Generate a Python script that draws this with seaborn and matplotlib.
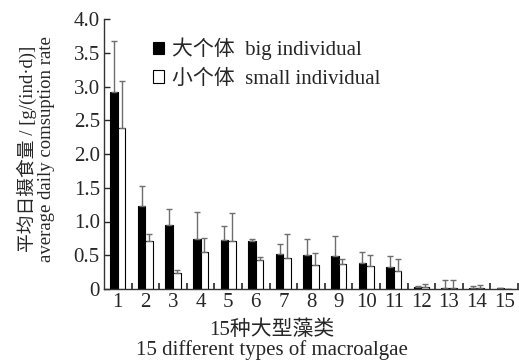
import seaborn as sns
import pandas as pd, numpy as np
import matplotlib.pyplot as plt
from matplotlib.patches import Patch
from matplotlib.ticker import FixedLocator, FuncFormatter

# 15种大型藻类
algae = [str(i) for i in range(1, 16)]
big_mean = [2.92, 1.23, 0.95, 0.74, 0.73, 0.71, 0.52, 0.51, 0.49, 0.39, 0.32, 0.03, 0.01, 0.01, 0.01]
big_err = [0.75, 0.30, 0.24, 0.40, 0.21, 0.03, 0.15, 0.23, 0.30, 0.16, 0.17, 0.02, 0.12, 0.03, 0.01]
small_mean = [2.39, 0.71, 0.23, 0.55, 0.71, 0.43, 0.46, 0.36, 0.37, 0.34, 0.27, 0.03, 0.02, 0.02, 0.005]
small_err = [0.69, 0.11, 0.05, 0.20, 0.41, 0.04, 0.36, 0.17, 0.08, 0.17, 0.18, 0.05, 0.12, 0.04, 0.0]
groups = ['大个体  big individual', '小个体  small individual']

df = pd.DataFrame({
    'algae': algae * 2,
    'rate': big_mean + small_mean,
    'err': big_err + small_err,
    'group': [groups[0]] * 15 + [groups[1]] * 15,
})

sns.set_style('ticks')
fonts = ['Liberation Serif', 'Noto Sans CJK SC']
plt.rcParams['font.family'] = fonts
plt.rcParams['axes.unicode_minus'] = False

fig = plt.figure(figsize=(5.19, 3.62), dpi=100)
ax = fig.add_axes([104 / 519, 1 - 289 / 362, 414 / 519, 270 / 362])

sns.barplot(data=df, x='algae', y='rate', hue='group', order=algae,
            hue_order=groups, palette=['black', 'white'], width=0.55,
            gap=0, edgecolor='black', linewidth=0.8, errorbar=None,
            legend=False, ax=ax)

# upper error bars at the centres of the drawn bars
for i, p in enumerate(ax.patches[:30]):
    xc = p.get_x() + p.get_width() / 2
    e = df['err'].iloc[i]
    ax.errorbar(xc, p.get_height(), yerr=[[0], [e]], fmt='none',
                ecolor='#6e6e6e', elinewidth=1.0, capsize=2.5, capthick=1.0)

ax.set_xlim(-0.5, 14.5)
ax.set_ylim(0, 4.0)
ax.set_yticks(np.arange(0, 4.01, 0.5))
ax.yaxis.set_major_formatter(FuncFormatter(lambda v, _: '0' if v == 0 else f'{v:.1f}'))
ax.xaxis.set_minor_locator(FixedLocator(np.arange(0.5, 15, 1)))
ax.tick_params(axis='x', which='major', length=0, labelsize=15, pad=3)
ax.tick_params(axis='x', which='minor', direction='in', length=4, width=1.2)
ax.tick_params(axis='y', direction='in', length=4, width=1.0, labelsize=15, pad=3)
for lab in ax.get_xticklabels() + ax.get_yticklabels():
    lab.set_family(fonts)

sns.despine(ax=ax)
for s in ['left', 'bottom']:
    ax.spines[s].set_color('#333333')
    ax.spines[s].set_linewidth(1.0)

ax.set_xlabel('15种大型藻类\n15 different types of macroalgae',
              fontsize=15, family=fonts, linespacing=0.95)
ax.xaxis.set_label_coords(0.406, -0.118)
ax.set_ylabel('平均日摄食量 / [g/(ind·d)]\naverage daily comsuption rate',
              fontsize=13.5, family=fonts, linespacing=1.05)
ax.yaxis.set_label_coords(-0.118, 0.52)

handles = [Patch(facecolor='black', edgecolor='black', linewidth=0.8),
           Patch(facecolor='white', edgecolor='black', linewidth=0.8)]
ax.legend(handles, groups, loc='upper left', bbox_to_anchor=(0.072, 1.0),
          frameon=False, handlelength=0.55, handleheight=0.55, handletextpad=0.4,
          labelspacing=0.45, prop={'family': fonts, 'size': 15})

fig.savefig('out.png', dpi=100)
